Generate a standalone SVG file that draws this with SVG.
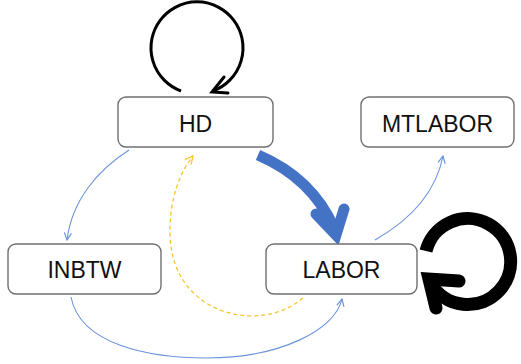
<svg xmlns="http://www.w3.org/2000/svg" width="521" height="364" viewBox="0 0 521 364">
  <style>
    .box { fill: #ffffff; stroke: #707070; stroke-width: 1.4; }
    .lbl { font-family: "Liberation Sans", Arial, sans-serif; font-size: 23px; fill: #111111; text-anchor: middle; }
    .thin { fill: none; stroke: #6b93dc; stroke-width: 1.1; }
    .dash { fill: none; stroke: #f7c531; stroke-width: 1.3; stroke-dasharray: 4 3; }
  </style>
  <defs>
    <marker id="openBlue" viewBox="0 0 10 10" refX="9" refY="5" markerWidth="9" markerHeight="9" markerUnits="userSpaceOnUse" orient="auto">
      <path d="M1,1 L9,5 L1,9" fill="none" stroke="#6b93dc" stroke-width="1.3"/>
    </marker>
    <marker id="openYellow" viewBox="0 0 10 10" refX="9" refY="5" markerWidth="10" markerHeight="10" markerUnits="userSpaceOnUse" orient="auto">
      <path d="M1,1 L9,5 L1,9" fill="none" stroke="#f7c531" stroke-width="1.3"/>
    </marker>
  </defs>

  <g id="connectors">
    <!-- HD self loop -->
    <path d="M181,91 A46 46 0 1 1 213,91" fill="none" stroke="#000" stroke-width="3"/>
    <path d="M224,77 L212,92 L228,93" fill="none" stroke="#000" stroke-width="3" stroke-linecap="round" stroke-linejoin="miter"/>
    <!-- HD to LABOR, heavy -->
    <path d="M258,155 Q312,178 334,228" fill="none" stroke="#4472c4" stroke-width="11"/>
    <path d="M316,214 L336,235 L344,209" fill="none" stroke="#4472c4" stroke-width="11" stroke-linecap="round" stroke-linejoin="miter"/>
    <!-- HD to INBTW -->
    <path class="thin" d="M129,150 C98,170 72,200 67,240" marker-end="url(#openBlue)"/>
    <!-- LABOR to HD, dashed -->
    <path class="dash" d="M303,298 C260,335 172,315 170,235 C169,200 180,172 193,156" marker-end="url(#openYellow)"/>
    <!-- INBTW to LABOR -->
    <path class="thin" d="M71,297 C80,345 150,358 207,358 C280,358 335,330 342,299" marker-end="url(#openBlue)"/>
    <!-- LABOR to MTLABOR -->
    <path class="thin" d="M375,240 C410,220 436,192 443,156" marker-end="url(#openBlue)"/>
    <!-- LABOR self loop, heavy -->
    <path d="M426,251 A43 43 0 1 1 431,284" fill="none" stroke="#000" stroke-width="13" stroke-linecap="butt"/>
    <path d="M459,281 L429,279 L436,308" fill="none" stroke="#000" stroke-width="13" stroke-linecap="round" stroke-linejoin="miter"/>
  </g>

  <g id="HD">
    <rect class="box" x="118" y="97" width="155" height="50" rx="8"/>
    <text class="lbl" x="195.5" y="132">HD</text>
  </g>
  <g id="MTLABOR">
    <rect class="box" x="361" y="97" width="153" height="50" rx="8"/>
    <text class="lbl" x="437.5" y="132">MTLABOR</text>
  </g>
  <g id="INBTW">
    <rect class="box" x="8" y="244" width="153" height="50" rx="8"/>
    <text class="lbl" x="84.5" y="278">INBTW</text>
  </g>
  <g id="LABOR">
    <rect class="box" x="266" y="244" width="151" height="50" rx="8"/>
    <text class="lbl" x="341.5" y="278">LABOR</text>
  </g>
</svg>
